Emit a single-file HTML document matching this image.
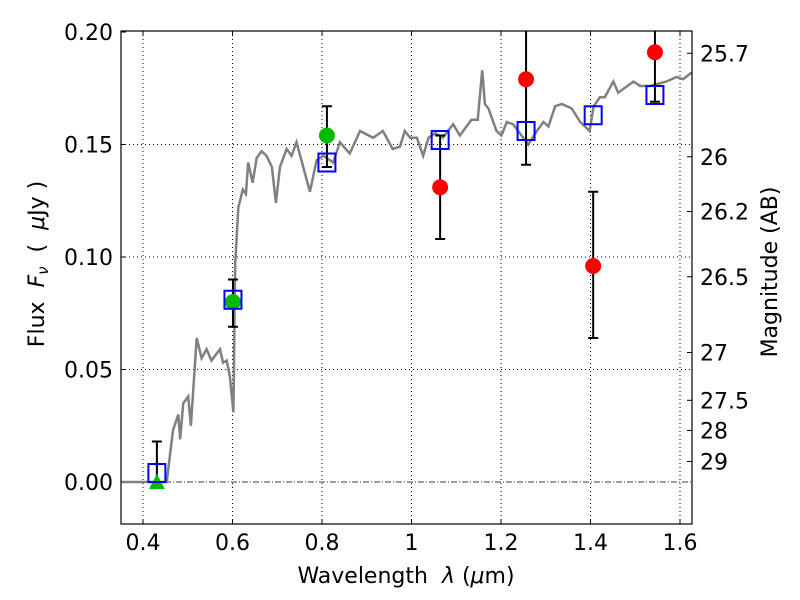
<!DOCTYPE html>
<html><head><meta charset="utf-8"><style>
body{margin:0;background:#fff;}
svg{display:block;font-family:"DejaVu Sans","Liberation Sans",sans-serif;}
</style></head><body>
<svg id="chart" width="800" height="600" viewBox="0 0 800 600" xmlns="http://www.w3.org/2000/svg"></svg>
<script>
const specX=[0.351,0.453,0.467,0.479,0.483,0.490,0.501,0.507,0.520,0.531,0.542,0.553,0.572,0.579,0.587,0.594,0.602,0.606,0.613,0.623,0.630,0.635,0.645,0.654,0.665,0.676,0.688,0.697,0.706,0.721,0.732,0.743,0.754,0.773,0.788,0.803,0.825,0.840,0.862,0.885,0.914,0.936,0.958,0.974,0.985,0.997,1.012,1.026,1.038,1.053,1.070,1.093,1.108,1.134,1.148,1.158,1.164,1.172,1.190,1.201,1.213,1.227,1.261,1.280,1.295,1.306,1.321,1.336,1.358,1.377,1.398,1.407,1.421,1.432,1.451,1.462,1.496,1.511,1.533,1.570,1.592,1.607,1.626];
const specY=[0,0,0.023,0.030,0.019,0.035,0.038,0.025,0.064,0.055,0.059,0.054,0.059,0.053,0.054,0.047,0.031,0.097,0.122,0.130,0.128,0.142,0.133,0.144,0.147,0.145,0.140,0.124,0.140,0.148,0.145,0.151,0.143,0.129,0.143,0.145,0.142,0.151,0.146,0.156,0.153,0.156,0.148,0.149,0.156,0.153,0.153,0.145,0.153,0.155,0.153,0.159,0.154,0.161,0.161,0.183,0.168,0.166,0.156,0.154,0.160,0.159,0.150,0.156,0.160,0.158,0.167,0.168,0.166,0.160,0.156,0.167,0.171,0.171,0.178,0.173,0.178,0.176,0.176,0.178,0.180,0.179,0.182];
const bandX=[0.431,0.601,0.811,1.064,1.256,1.406,1.544];
const modelFlux=[0.004,0.081,0.142,0.152,0.156,0.163,0.172];
const greenX=[0.601,0.811];
const greenY=[0.080,0.154];
const redX=[1.064,1.256,1.406,1.544];
const redY=[0.131,0.179,0.096,0.191];
const errX=[0.431,0.601,0.811,1.064,1.256,1.406,1.544];
const errLo=[0.000,0.069,0.140,0.108,0.141,0.064,0.169];
const errHi=[0.018,0.090,0.167,0.154,0.230,0.129,0.230];
const limitX=[0.431];
const limitY=[0.0];
const xTicks=[0.4,0.6,0.8,1.0,1.2,1.4,1.6];
const xTickLabels=["0.4","0.6","0.8","1","1.2","1.4","1.6"];
const yTicks=[0,0.05,0.10,0.15,0.20];
const yTickLabels=["0.00","0.05","0.10","0.15","0.20"];
const magTicks=[25.7,26,26.2,26.5,27,27.5,28,29];
const magLabels=["25.7","26","26.2","26.5","27","27.5","28","29"];

const L=121,R=692,T=31,B=524;
const X=v=>143+(v-0.4)*447.5;
const Y=v=>482-v*2250;
const NS="http://www.w3.org/2000/svg";
const svg=document.getElementById('chart');
function mk(tag,attrs,parent){const e=document.createElementNS(NS,tag);for(const k in attrs)e.setAttribute(k,attrs[k]);(parent||svg).appendChild(e);return e;}
const clip=mk('clipPath',{id:'pc'});mk('rect',{x:L,y:T,width:R-L,height:B-T},clip);
xTicks.forEach((v,i)=>{
 const g=mk('line',{x1:X(v),x2:X(v),y1:T,y2:B,stroke:'#000','stroke-width':1,'stroke-dasharray':'1,3'});
 
 
 mk('line',{x1:X(v),x2:X(v),y1:B,y2:B-5,stroke:'#000'});
 mk('line',{x1:X(v),x2:X(v),y1:T,y2:T+5,stroke:'#000'});
 const t=mk('text',{x:X(v),y:B+26,'font-size':22,'text-anchor':'middle'});t.textContent=xTickLabels[i];
 
 
});
yTicks.forEach((v,i)=>{
 if(v>0&&v<0.2){const g=mk('line',{x1:L,x2:R,y1:Y(v),y2:Y(v),stroke:'#000','stroke-width':1,'stroke-dasharray':'1,3'});
 
 }
 mk('line',{x1:L,x2:L+5,y1:Y(v),y2:Y(v),stroke:'#000'});
 const t=mk('text',{x:L-8,y:Y(v)+8,'font-size':22,'text-anchor':'end'});t.textContent=yTickLabels[i];
 
 
});
const zl=mk('line',{x1:L,x2:R,y1:Y(0),y2:Y(0),stroke:'#000','stroke-width':0.8,'stroke-dasharray':'6,2,1,2'});


const sp=mk('polyline',{points:specX.map((x,i)=>X(x)+','+Y(specY[i])).join(' '),fill:'none',stroke:'#808080','stroke-width':2.5,'clip-path':'url(#pc)'});


errX.forEach((x,i)=>{
 const g=mk('g',{'clip-path':'url(#pc)'});
 
 
 mk('line',{x1:X(x),x2:X(x),y1:Y(errLo[i]),y2:Y(errHi[i]),stroke:'#000','stroke-width':2},g);
 mk('line',{x1:X(x)-5,x2:X(x)+5,y1:Y(errLo[i]),y2:Y(errLo[i]),stroke:'#000','stroke-width':2},g);
 mk('line',{x1:X(x)-5,x2:X(x)+5,y1:Y(errHi[i]),y2:Y(errHi[i]),stroke:'#000','stroke-width':2},g);
});
greenX.forEach((x,i)=>{const c=mk('circle',{cx:X(x),cy:Y(greenY[i]),r:8,fill:'#00bb00'});
 
 });
limitX.forEach((x,i)=>{const px=X(x),py=Y(limitY[i]);const p=mk('polygon',{points:`${px},${py-8} ${px-8},${py+7} ${px+8},${py+7}`,fill:'#00bb00','clip-path':'url(#pc)'});
 
 });
redX.forEach((x,i)=>{const c=mk('circle',{cx:X(x),cy:Y(redY[i]),r:8,fill:'#ff0000'});
 
 });
bandX.forEach((x,i)=>{const r=mk('rect',{x:X(x)-8.5,y:Y(modelFlux[i])-9,width:17,height:18,fill:'none',stroke:'#0000ff','stroke-width':2});
 
 });
magTicks.forEach((m,i)=>{const f=Math.pow(10,(23.9-m)/2.5);const y=Y(f);
 mk('line',{x1:R,x2:R-5,y1:y,y2:y,stroke:'#000'});
 const t=mk('text',{x:R+8,y:y+8,'font-size':22});t.textContent=magLabels[i];
 
 });
const fr=mk('rect',{x:L,y:T,width:R-L,height:B-T,fill:'none',stroke:'#000','stroke-width':1.2});


</script>
<svg style="position:absolute;left:0;top:0" width="800" height="600">
<text x="406" y="583" font-size="22" text-anchor="middle" font-family="DejaVu Sans,sans-serif">Wavelength&#160;&#160;<tspan font-style="italic">λ</tspan>&#160;(<tspan font-style="italic">μ</tspan>m)</text>
<text transform="translate(44,264) rotate(-90)" font-size="22" text-anchor="middle" font-family="DejaVu Sans,sans-serif">Flux&#160;&#160;<tspan font-style="italic">F</tspan><tspan font-style="italic" font-size="15" dy="4">ν</tspan><tspan dy="-4">&#160;&#160;(&#160;&#160;</tspan><tspan font-style="italic">μ</tspan>Jy&#160;)</text>
<text transform="translate(777,272) rotate(-90)" font-size="22" text-anchor="middle" font-family="DejaVu Sans,sans-serif">Magnitude (AB)</text>
</svg>
</body></html>
